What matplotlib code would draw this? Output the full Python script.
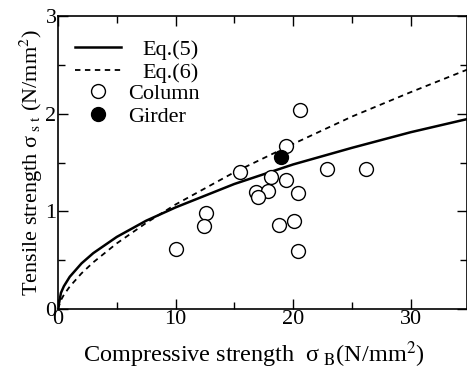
import matplotlib
matplotlib.use("Agg")
import matplotlib.pyplot as plt
from matplotlib.ticker import MultipleLocator

plt.rcParams["font.family"] = "Liberation Serif"
plt.rcParams["mathtext.fontset"] = "stix"

# curve values
curve_x = [0, 0.25, 0.5, 1, 2, 3, 5, 7.5, 10, 15, 20, 25, 30, 35]
eq5_y = [0, 0.165, 0.233, 0.33, 0.467, 0.572, 0.738, 0.904, 1.04, 1.28, 1.48, 1.65, 1.81, 1.95]
eq6_y = [0, 0.091, 0.145, 0.23, 0.365, 0.478, 0.672, 0.881, 1.07, 1.40, 1.69, 1.97, 2.22, 2.46]

# test points
column_x = [20.56, 19.37, 15.46, 22.88, 26.2, 18.15, 19.37, 16.88, 17.9, 17.02,
            20.45, 12.57, 12.4, 18.8, 20.05, 20.45, 10.08]
column_y = [2.04, 1.665, 1.40, 1.436, 1.436, 1.35, 1.316, 1.197, 1.21, 1.146,
            1.186, 0.98, 0.85, 0.855, 0.896, 0.595, 0.612]
girder_x = [19.0]
girder_y = [1.56]

fig = plt.figure(figsize=(4.67, 3.69), dpi=100)
ax = fig.add_axes([58 / 467, 60 / 369, 408.5 / 467, 293 / 369])

l5, = ax.plot(curve_x, eq5_y, "-", color="black", linewidth=1.8)
l6, = ax.plot(curve_x, eq6_y, "--", color="black", linewidth=1.3, dashes=(3, 2.5))
pc, = ax.plot(column_x, column_y, "o", markersize=10, markerfacecolor="white",
              markeredgecolor="black", markeredgewidth=1.0, linestyle="none")
pg, = ax.plot(girder_x, girder_y, "o", markersize=10, color="black", linestyle="none")

ax.set_xlim(0, 34.75)
ax.set_ylim(0, 3)
ax.xaxis.set_major_locator(MultipleLocator(10))
ax.xaxis.set_minor_locator(MultipleLocator(5))
ax.yaxis.set_major_locator(MultipleLocator(1))
ax.yaxis.set_minor_locator(MultipleLocator(0.5))
ax.tick_params(which="both", direction="in", top=True, right=True, labelsize=16, width=1)
ax.tick_params(which="major", length=7, pad=1)
ax.tick_params(which="minor", length=5)
for s in ax.spines.values():
    s.set_linewidth(1.2)

ax.set_xlabel(r"Compressive strength  σ$_{\rm\ B}$(N/mm$^2$)", fontsize=17.5)
ax.xaxis.set_label_coords((254 - 58) / 408.5, -0.105)
ax.set_ylabel(r"Tensile strength σ$_{\rm\ s\ t}$ (N/mm$^2$)", fontsize=16, labelpad=0)

# two legends: the equation texts sit a little further right than the marker texts
leg1 = ax.legend([l5, l6], ["Eq.(5)", "Eq.(6)"], loc="upper left",
                 bbox_to_anchor=(0.01, 0.966), frameon=False, fontsize=16,
                 handlelength=2.03, handletextpad=1.0, labelspacing=0.1, borderaxespad=0.2)
ax.add_artist(leg1)
ax.legend([pc, pg], ["Column", "Girder"], loc="upper left",
          bbox_to_anchor=(0.01, 0.816), frameon=False, fontsize=16,
          handlelength=2.03, handletextpad=0.32, labelspacing=0.1, borderaxespad=0.2)

fig.savefig("out.png", dpi=100)
